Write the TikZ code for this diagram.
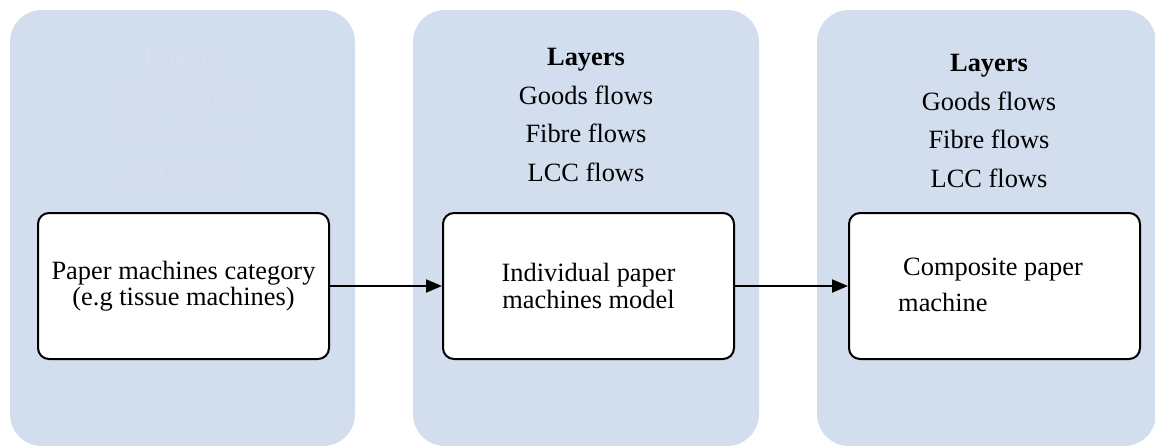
\documentclass[tikz,border=0pt]{standalone}
\usepackage{fontspec}
\setmainfont{Liberation Serif}
\usetikzlibrary{arrows.meta}
\definecolor{panelblue}{HTML}{D2DDEE}
\definecolor{fainttext}{HTML}{D5DFEF}
\begin{document}
\begin{tikzpicture}[x=1pt,y=-1pt,
  panel/.style={fill=panelblue, rounded corners=32pt},
  stage/.style={draw=black, line width=2pt, fill=white, rounded corners=11pt,
    minimum width=291pt, minimum height=146pt, inner sep=0pt, align=center,
    font=\fontsize{26.4}{26.5}\selectfont},
  layers/.style={align=center, inner sep=0pt, font=\fontsize{26.4}{38.5}\selectfont},
  flow/.style={line width=2pt, -{Triangle[length=16pt,width=13pt]}}]
\useasboundingbox (0,0) rectangle (1155,445);

% three stage panels
\fill[panel] (10,10) rectangle (355,446);
\fill[panel] (413,10) rectangle (759,446);
\fill[panel] (817,10) rectangle (1156,446);

% layer lists
\node[layers, text=fainttext] (l1) at (183,115)
  {\textbf{Layers}\\Goods flow\\Fibre flows\\LCC flows};
\node[layers] (l2) at (586,115)
  {\textbf{Layers}\\Goods flows\\Fibre flows\\LCC flows};
\node[layers] (l3) at (989,121)
  {\textbf{Layers}\\Goods flows\\Fibre flows\\LCC flows};

% stage boxes
\node[stage] (b1) at (183.5,286) {Paper machines category\\(e.g tissue machines)};
\node[stage] (b2) at (588.5,286) {Individual paper\\machines model};
\node[stage] (b3) at (994.5,286) {};
\node[anchor=west, align=left, inner sep=0pt,
  font=\fontsize{26.4}{36}\selectfont] (t3) at (898,285)
  {\hspace*{5pt}Composite paper\\machine};

% connectors
\draw[flow] (b1.east) -- (b2.west);
\draw[flow] (b2.east) -- (b3.west);
\end{tikzpicture}
\end{document}
